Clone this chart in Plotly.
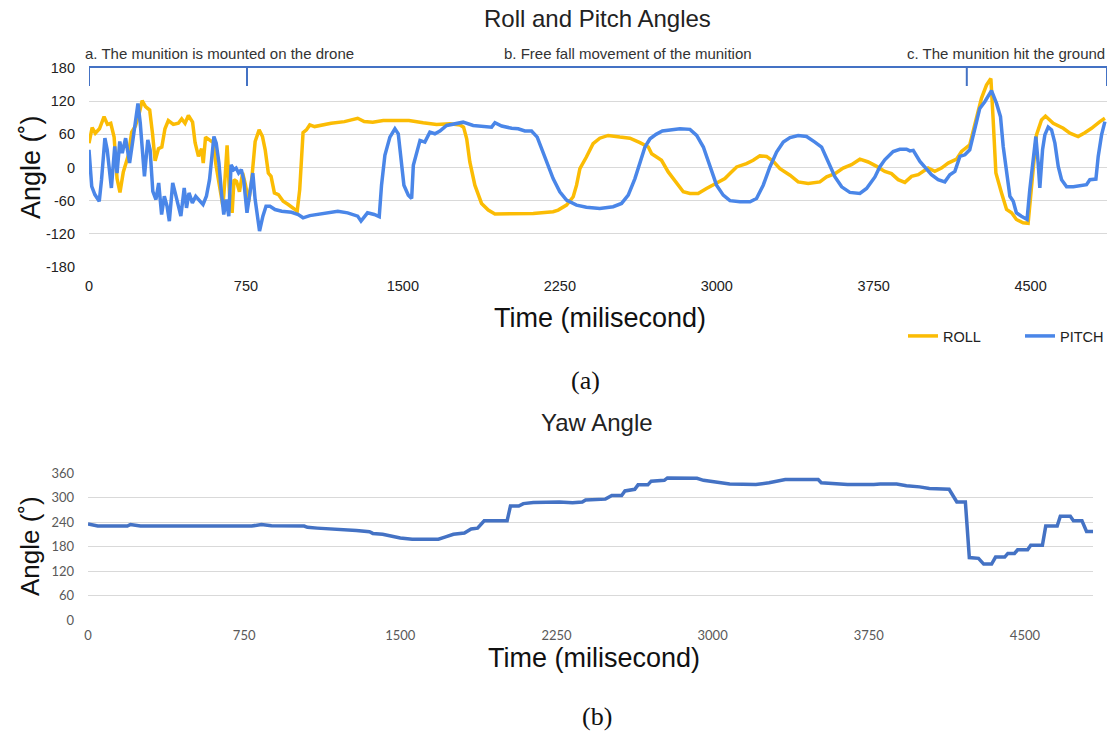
import plotly.graph_objects as go

# Roll / pitch (top panel), time in ms, angle in degrees
roll_t = [0, 15, 30, 50, 72, 88, 104, 120, 134, 148, 164, 188, 204, 222, 240, 254, 270, 290, 304, 316,
          332, 348, 363, 379, 403, 427, 443, 459, 475, 495, 507, 523, 538, 546, 557, 578, 594, 607, 624, 640,
          650, 660, 672, 684, 693, 705, 719, 734, 747, 763, 778, 794, 813, 829, 842, 857, 870, 886, 905, 928,
          952, 976, 995, 1007, 1023, 1039, 1055, 1078, 1110, 1157, 1221, 1284, 1315, 1356, 1406, 1529, 1597, 1661, 1725, 1773,
          1790, 1805, 1820, 1844, 1876, 1908, 1940, 2059, 2123, 2218, 2242, 2282, 2314, 2330, 2346, 2377, 2409, 2441, 2481, 2537,
          2585, 2633, 2673, 2689, 2710, 2736, 2768, 2800, 2840, 2872, 2911, 2951, 2999, 3039, 3063, 3095, 3142, 3174, 3206, 3238,
          3270, 3302, 3350, 3389, 3437, 3493, 3525, 3565, 3604, 3644, 3684, 3724, 3764, 3803, 3835, 3867, 3899, 3931, 3963, 4010,
          4042, 4074, 4106, 4146, 4170, 4209, 4241, 4265, 4289, 4310, 4321, 4334, 4361, 4385, 4409, 4432, 4464, 4488, 4512, 4528,
          4552, 4571, 4608, 4656, 4688, 4727, 4759, 4791, 4831, 4855]
roll = [44, 72, 62, 70, 92, 78, 80, 55, -20, -45, -8, 22, 64, 75, 98, 121, 110, 104, 60, 12,
        34, 37, 70, 85, 78, 80, 88, 80, 94, 82, 45, 20, 34, 8, 55, 50, 45, 4, -30, -70,
        -20, 40, -52, -82, -22, -25, -44, -10, -30, -62, -20, 47, 68, 56, 32, -10, -16, -46, -49, -61,
        -67, -73, -79, -40, 63, 68, 77, 74, 77, 80, 83, 89, 83, 82, 85, 85, 81, 78, 79, 77,
        73, 52, 10, -32, -65, -77, -84, -83, -83, -80, -77, -68, -53, -32, -2, 19, 43, 53, 58, 55,
        53, 45, 37, 25, 20, 13, -8, -23, -44, -47, -47, -38, -29, -20, -11, 1, 7, 13, 21, 20,
        11, -2, -14, -26, -29, -26, -17, -11, -1, 5, 15, 10, 2, -7, -11, -22, -27, -16, -13, -1,
        -7, -1, 8, 15, 29, 41, 89, 125, 149, 161, 86, -10, -46, -76, -82, -94, -100, -101, -4, 59,
        86, 93, 80, 71, 62, 56, 63, 71, 83, 89]

pitch_t = [0, 13, 28, 49, 60, 76, 87, 107, 123, 134, 147, 159, 175, 194, 210, 234, 245, 254, 265, 281,
           292, 305, 320, 333, 347, 360, 373, 384, 400, 412, 423, 439, 455, 466, 478, 494, 510, 526, 545, 561,
           576, 589, 597, 608, 621, 633, 644, 655, 668, 679, 692, 703, 715, 728, 739, 755, 771, 783, 794, 815,
           831, 846, 865, 889, 921, 968, 1000, 1023, 1055, 1094, 1157, 1189, 1236, 1284, 1300, 1331, 1363, 1387, 1398, 1414,
           1438, 1462, 1478, 1494, 1505, 1526, 1542, 1550, 1566, 1582, 1605, 1629, 1653, 1677, 1709, 1757, 1788, 1836, 1884, 1924,
           1940, 1972, 2020, 2051, 2083, 2115, 2142, 2163, 2187, 2218, 2250, 2282, 2330, 2377, 2441, 2505, 2545, 2577, 2609, 2633,
           2657, 2681, 2710, 2740, 2776, 2824, 2872, 2904, 2936, 2968, 2999, 3031, 3063, 3111, 3159, 3190, 3222, 3254, 3286, 3318,
           3350, 3389, 3429, 3469, 3501, 3533, 3565, 3597, 3636, 3684, 3716, 3756, 3779, 3803, 3843, 3875, 3907, 3923, 3939, 3971,
           4003, 4026, 4058, 4090, 4114, 4138, 4162, 4186, 4209, 4233, 4257, 4281, 4297, 4313, 4337, 4356, 4369, 4385, 4401, 4417,
           4432, 4456, 4483, 4496, 4512, 4525, 4536, 4544, 4557, 4568, 4584, 4600, 4616, 4632, 4648, 4672, 4704, 4736, 4767, 4783,
           4812, 4823, 4839, 4855]
pitch = [32, -34, -49, -61, -22, 53, 32, -37, 38, -10, 47, 26, 53, 8, 50, 116, 80, 26, -16, 50,
         32, -43, -58, -28, -85, -52, -70, -97, -28, -46, -64, -88, -37, -73, -46, -64, -52, -58, -67, -52,
         -22, 26, 56, 44, 8, -46, -85, -58, -88, 5, -4, -1, -10, -4, -22, -82, -34, -10, -58, -115,
         -88, -70, -70, -76, -79, -81, -85, -91, -87, -85, -82, -79, -82, -88, -97, -82, -85, -89, -32, 22,
         55, 70, 61, 10, -32, -50, -56, 4, 28, 49, 46, 64, 61, 66, 76, 79, 82, 76, 75, 73,
         81, 75, 71, 70, 66, 66, 55, 34, 10, -20, -44, -59, -68, -72, -74, -71, -65, -50, -20, 10,
         37, 52, 60, 66, 68, 70, 69, 58, 37, 4, -32, -50, -60, -62, -62, -56, -32, 1, 28, 46,
         54, 58, 56, 46, 37, 10, -17, -35, -45, -47, -38, -17, 1, 14, 29, 33, 33, 30, 31, 11,
         -3, -13, -22, -26, -13, -7, 20, 23, 32, 68, 107, 119, 128, 139, 116, 92, 38, -4, -52, -61,
         -82, -88, -94, -40, 14, 56, 8, -37, 32, 59, 73, 68, 44, 2, -22, -35, -35, -33, -31, -22,
         -21, 20, 59, 83]

# Yaw (bottom panel)
yaw_t = [0, 47, 189, 204, 252, 786, 833, 881, 1038, 1054, 1101, 1179, 1242, 1289, 1352, 1368, 1415, 1447, 1500, 1557,
         1683, 1714, 1755, 1808, 1840, 1871, 1903, 2013, 2029, 2069, 2091, 2139, 2264, 2327, 2374, 2390, 2437, 2485, 2516, 2563,
         2579, 2626, 2642, 2689, 2705, 2768, 2783, 2862, 2925, 2956, 3019, 3082, 3208, 3271, 3349, 3507, 3522, 3585, 3648, 3774,
         3805, 3884, 3931, 3994, 4041, 4136, 4173, 4214, 4233, 4277, 4302, 4340, 4359, 4403, 4418, 4450, 4465, 4513, 4528, 4584,
         4600, 4655, 4670, 4718, 4733, 4774, 4796, 4827]
yaw = [235, 230, 230, 234, 230, 230, 234, 231, 230, 227, 225, 223, 220, 219, 216, 212, 210, 206, 201, 198,
       198, 203, 210, 213, 223, 225, 243, 243, 279, 279, 285, 288, 289, 287, 289, 294, 296, 296, 305, 305,
       316, 320, 331, 331, 340, 342, 348, 348, 347, 342, 338, 333, 332, 336, 344, 344, 336, 333, 332, 332,
       333, 333, 329, 326, 322, 320, 289, 289, 153, 151, 137, 137, 154, 154, 163, 163, 172, 172, 183, 183,
       230, 230, 254, 254, 243, 243, 217, 217]

x_ticks = [0, 750, 1500, 2250, 3000, 3750, 4500]
top_y_ticks = [-180, -120, -60, 0, 60, 120, 180]
yaw_y_ticks = [0, 60, 120, 180, 240, 300, 360]

phase_edges = [0, 755, 4195, 4865]
phase_labels = ["a. The munition is mounted on the drone",
                "b. Free fall movement of the munition",
                "c. The munition hit the ground"]
phase_label_x = [626, 2575, 4381]

W, H = 1112, 738
ARIAL = "Liberation Sans, Arial, sans-serif"
SERIF = "Liberation Serif, Times New Roman, serif"


def py(p):
    # pixel row -> paper y
    return 1 - p / H


def label(text, x, y, size, color="#111", family=ARIAL, angle=0, xref="paper"):
    return dict(text=text, x=x, y=y, xref=xref, yref="paper", showarrow=False,
                xanchor="center", yanchor="middle", textangle=angle,
                font=dict(family=family, size=size, color=color))


fig = go.Figure()
fig.add_trace(go.Scatter(x=roll_t, y=roll, name="ROLL", mode="lines",
                         line=dict(color="#FBBC04", width=3.5), xaxis="x", yaxis="y"))
fig.add_trace(go.Scatter(x=pitch_t, y=pitch, name="PITCH", mode="lines",
                         line=dict(color="#4A86E8", width=3.5), xaxis="x", yaxis="y"))
fig.add_trace(go.Scatter(x=yaw_t, y=yaw, name="YAW", mode="lines", showlegend=False,
                         line=dict(color="#4472C4", width=3.5), xaxis="x2", yaxis="y2"))

fig.update_layout(
    template="none",
    width=W, height=H,
    margin=dict(l=0, r=0, t=0, b=0, autoexpand=False),
    paper_bgcolor="white", plot_bgcolor="white",
    font=dict(family=ARIAL, color="#222"),
    xaxis=dict(domain=[89 / W, 1107 / W], range=[0, 4865], tickvals=x_ticks, automargin=False,
               showgrid=False, zeroline=False, showline=False, ticks="", ticklabelstandoff=8,
               tickfont=dict(size=14.5, color="#222"), anchor="y"),
    yaxis=dict(domain=[py(267), py(68)], range=[-180, 180], tickvals=top_y_ticks,
               ticktext=[str(v) for v in top_y_ticks], automargin=False,
               showgrid=True, gridcolor="#d9d9d9", gridwidth=1, zeroline=False, ticks="",
               tickfont=dict(size=14.5, color="#222"), ticklabelstandoff=13, anchor="x"),
    xaxis2=dict(domain=[88 / W, 1093 / W], range=[0, 4827], tickvals=x_ticks, automargin=False,
                showgrid=False, zeroline=False, showline=False, ticks="", ticklabelstandoff=6,
                tickfont=dict(family="Lato, sans-serif", size=13, color="#595959"), anchor="y2"),
    yaxis2=dict(domain=[py(620), py(473)], range=[0, 360], tickvals=yaw_y_ticks, automargin=False,
                showgrid=True, gridcolor="#d9d9d9", gridwidth=1, zeroline=False, ticks="",
                tickfont=dict(family="Lato, sans-serif", size=13, color="#595959"),
                ticklabelstandoff=13, anchor="x2"),
    legend=dict(orientation="h", x=903 / W, xanchor="left", y=py(336), yanchor="middle",
                font=dict(size=14.5, color="#222"), itemwidth=30,
                entrywidth=72, entrywidthmode="pixels", bgcolor="rgba(0,0,0,0)"),
)

# phase bracket above the roll/pitch panel
shapes = [dict(type="line", xref="x", yref="paper", x0=phase_edges[0], x1=phase_edges[-1],
               y0=py(67), y1=py(67), line=dict(color="#4472C4", width=2))]
for e in phase_edges:
    shapes.append(dict(type="line", xref="x", yref="paper", x0=e, x1=e,
                       y0=py(67), y1=py(86), line=dict(color="#4472C4", width=2)))
fig.update_layout(shapes=shapes)

ann = [label(lbl, lx, py(54), 15, color="#333", xref="x")
       for lbl, lx in zip(phase_labels, phase_label_x)]
ann += [
    label("Roll and Pitch Angles", 597 / W, py(19), 24, color="#222"),
    label("Angle (˚)", 31 / W, py(167), 27, angle=-90),
    label("Time (milisecond)", 600 / W, py(318), 27),
    label("(a)", 585 / W, py(380), 26, family=SERIF),
    label("Yaw Angle", 597 / W, py(423), 24, color="#222"),
    label("Angle (˚)", 30 / W, py(546), 26, angle=-90),
    label("Time (milisecond)", 594 / W, py(658), 27),
    label("(b)", 597 / W, py(716), 26, family=SERIF),
]
fig.update_layout(annotations=ann)

# drop the default 8px body margin so the figure sits at the window origin
fig.write_html("out.html", config={"displayModeBar": False},
               post_script="document.body.style.margin='0';")
